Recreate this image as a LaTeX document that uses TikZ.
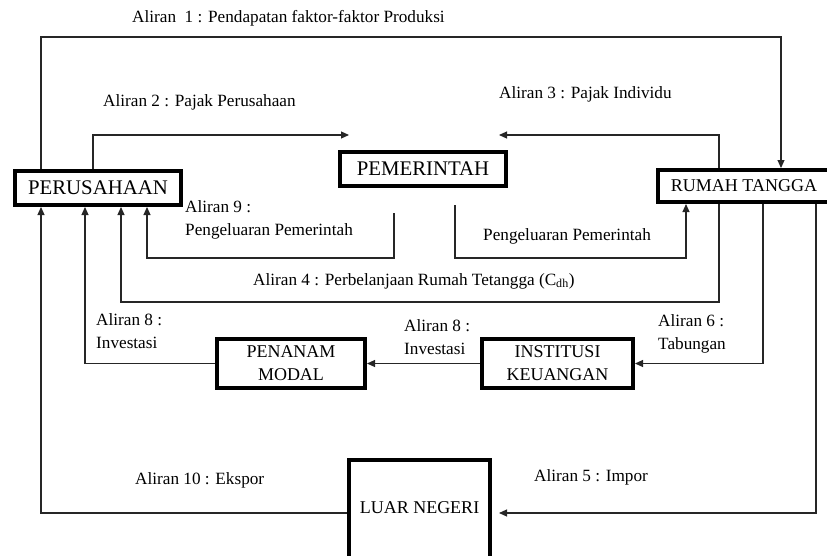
\documentclass[tikz,border=0pt]{standalone}
\usepackage{fontspec}
\setmainfont{Liberation Serif}
\usetikzlibrary{arrows.meta}
\begin{document}
\begin{tikzpicture}[x=1pt,y=-1pt,
  box/.style={draw, line width=4pt, outer sep=2pt, inner sep=0pt, fill=white,
    font=\fontsize{18}{23}\selectfont, align=center},
  bigbox/.style={box, font=\fontsize{20.8}{24}\selectfont},
  ln/.style={line width=1.1pt, draw=black!85},
  arr/.style={ln, -{Triangle[length=8pt,width=7pt]}},
  lab/.style={anchor=west, inner sep=0pt, align=left, font=\fontsize{17.2}{23}\selectfont}]
\useasboundingbox (0,0) rectangle (827,555);
\clip (0,0) rectangle (827,555);

% boxes
\node[bigbox, minimum width=166, minimum height=34] (per) at (98,188) {PERUSAHAAN};
\node[bigbox, minimum width=166, minimum height=34] (pem) at (423,169) {PEMERINTAH};
\node[box, minimum width=172, minimum height=32] (rt) at (744,186) {RUMAH TANGGA};
\node[box, minimum width=151, minimum height=49] (inst) at (557.5,363.5) {INSTITUSI\\KEUANGAN};
\node[box, minimum width=148, minimum height=49] (pen) at (291,363.5) {PENANAM\\MODAL};
\node[box, minimum width=141, minimum height=106, anchor=north] (luar) at (419.5,458) {};
\node[inner sep=0pt, font=\fontsize{18}{22}\selectfont] (luartext) at (419.5,508) {LUAR NEGERI};

% free ends
\coordinate (c2) at (349,135);
\coordinate (c3) at (499,135);
\coordinate (g9) at (394,213);
\coordinate (gr) at (455,205);
\coordinate (c5) at (499,513);

% connectors
\draw[arr] ([xshift=28]per.north west) -- (41,37) -- (781,37) -- ([xshift=125]rt.north west);
\draw[arr] ([xshift=80]per.north west) -- (93,135) -- (c2);
\draw[arr] ([xshift=63]rt.north west) -- (719,135) -- (c3);
\draw[arr] (g9) -- (394,258) -- (147,258) -- ([xshift=134]per.south west);
\draw[arr] (gr) -- (455,258) -- (686,258) -- ([xshift=30]rt.south west);
\draw[arr] ([xshift=63]rt.south west) -- (719,302) -- (121,302) -- ([xshift=108]per.south west);
\draw[arr] ([xshift=107]rt.south west) -- (763,363.5) -- (inst.east);
\draw[arr] (inst.west) -- (pen.east);
\draw[arr] (pen.west) -- (85,363.5) -- ([xshift=72]per.south west);
\draw[arr] ([xshift=160]rt.south west) -- (816,513) -- (c5);
\draw[arr] ([yshift=-55]luar.north west) -- (41,513) -- ([xshift=28]per.south west);

% labels
\node[lab] (l1) at (132,18) {Aliran\ \ 1 : Pendapatan faktor-faktor Produksi};
\node[lab] (l2) at (103,102) {Aliran 2\ : Pajak\ Perusahaan};
\node[lab] (l3) at (499,94) {Aliran 3 : Pajak Individu};
\node[lab] (l9) at (185,220) {Aliran 9 :\\Pengeluaran Pemerintah};
\node[lab] (lpp) at (483,236) {Pengeluaran Pemerintah};
\node[lab] (l4) at (253,281) {Aliran 4 : Perbelanjaan Rumah Tetangga (C\textsubscript{dh})};
\node[lab] (l8a) at (96,331) {Aliran 8 :\\Investasi};
\node[lab] (l8b) at (404,337.5) {Aliran 8 :\\Investasi};
\node[lab] (l6) at (658,334) {Aliran 6 :\\Tabungan};
\node[lab] (l10) at (135,480) {Aliran 10 : Ekspor};
\node[lab] (l5) at (534,477) {Aliran 5 : Impor};
\end{tikzpicture}
\end{document}
